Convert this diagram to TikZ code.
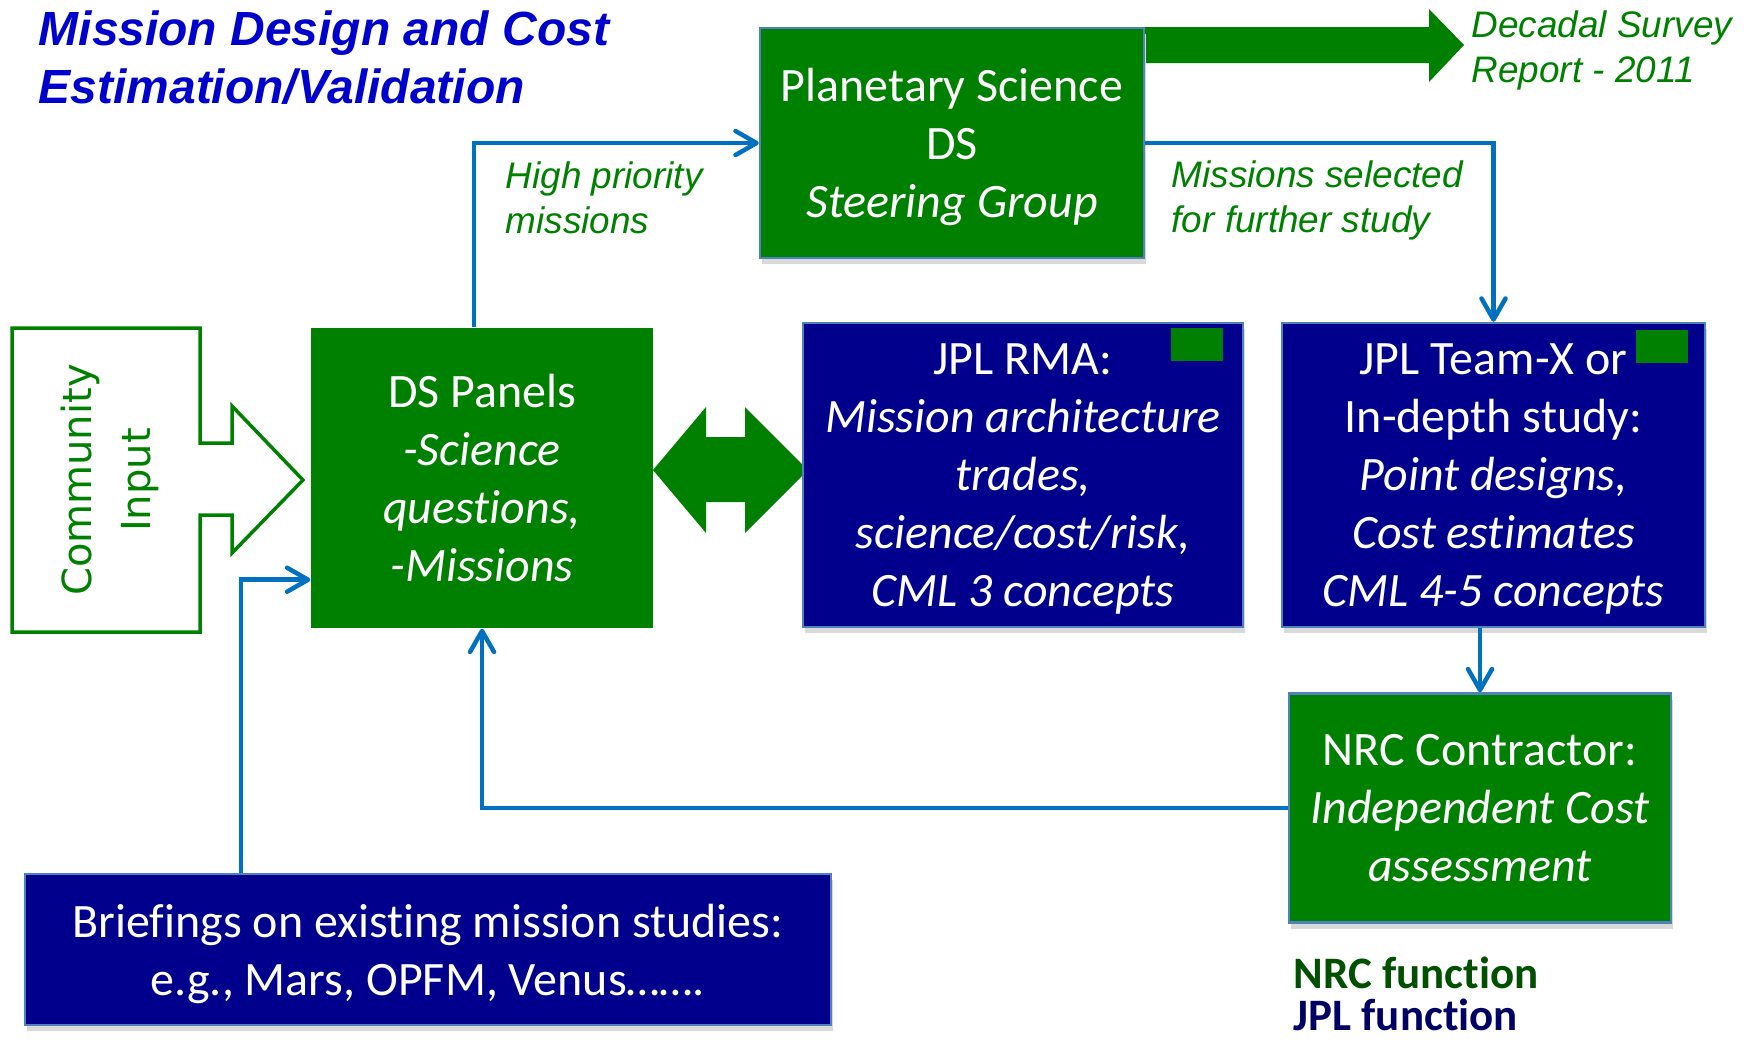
\documentclass[tikz,border=0pt]{standalone}
\usepackage{fontspec}
\setmainfont{Carlito}[Ligatures=NoCommon]
\newfontfamily\arialfont{Liberation Sans}
\newfontfamily\verdfont{DejaVu Sans}
\usetikzlibrary{arrows.meta,calc,shadows}

\definecolor{nasagreen}{RGB}{0,128,0}
\definecolor{jplblue}{RGB}{0,0,140}
\definecolor{edgeblue}{RGB}{79,129,189}
\definecolor{flowblue}{RGB}{0,112,192}
\definecolor{titleblue}{RGB}{0,0,204}
\definecolor{legendgreen}{RGB}{0,80,0}
\definecolor{legendblue}{RGB}{0,0,100}

\tikzset{
  box/.style={draw=edgeblue, line width=0.25mm, text=white, align=center, inner sep=0pt,
    text depth=0pt, font=\fontsize{13.65}{16.5}\selectfont,
    drop shadow={shadow xshift=0.2mm, shadow yshift=-0.6mm, fill=black!15, opacity=1}},
  nrcbox/.style={box, fill=nasagreen},
  jplbox/.style={box, fill=jplblue},
  panelbox/.style={fill=nasagreen, text=white, align=center, inner sep=0pt,
    text depth=0pt, font=\fontsize{13.65}{16.5}\selectfont},
  tag/.style={fill=nasagreen, inner sep=0pt, minimum width=5.2mm, minimum height=3.3mm},
  flow/.style={draw=flowblue, line width=0.45mm, -{Straight Barb[length=2.1mm,width=2.4mm,round]}},
  lbl/.style={text=nasagreen, font=\arialfont\itshape\fontsize{10.5}{12.8}\selectfont,
    align=left, inner sep=0pt},
  legend/.style={font=\bfseries\fontsize{12.8}{12.8}\selectfont, inner sep=0pt, anchor=base west}
}

\begin{document}
\begin{tikzpicture}[x=0.1mm,y=-0.1mm]
\useasboundingbox (0,0) rectangle (1750,1040);

% title and outcome
\node[anchor=north west, text=titleblue, align=left, inner sep=0pt,
  font=\arialfont\bfseries\itshape\fontsize{13.65}{16.5}\selectfont] (title) at (38,10)
  {Mission Design and Cost\\Estimation/Validation};
\node[lbl, anchor=north west] (report) at (1471,10) {Decadal Survey\\Report - 2011};

% community input arrow
\draw[nasagreen, line width=0.35mm, fill=white]
  (12,328) -- (200,328) -- (200,443) -- (232,443) -- (232,406) -- (303,480)
  -- (232,553) -- (232,515) -- (200,515) -- (200,632) -- (12,632) -- cycle;
\node[rotate=90, align=center, text=nasagreen, inner sep=0pt,
  font=\verdfont\fontsize{11.4}{16.8}\selectfont] (community) at (110,480) {Community\\Input};

% big green arrows
\fill[nasagreen] (1144,27) -- (1429,27) -- (1429,9) -- (1464,45) -- (1429,82)
  -- (1429,63) -- (1144,63) -- cycle;
\fill[nasagreen] (653,470) -- (706,407) -- (706,437) -- (745,437) -- (745,407)
  -- (808,470) -- (745,533) -- (745,502) -- (706,502) -- (706,533) -- cycle;

% boxes
\node[nrcbox, minimum width=38.4mm, minimum height=23mm] (plan) at (952,143)
  {Planetary Science\\DS\\\textit{Steering Group}};
\node[panelbox, minimum width=34.2mm, minimum height=30mm] (panels) at (482,478)
  {DS Panels\\\textit{-Science}\\\textit{questions,}\\\textit{-Missions}};
\node[jplbox, minimum width=44mm, minimum height=30.4mm] (rma) at (1023,475)
  {JPL RMA:\\\textit{Mission architecture}\\\textit{trades,}\\\textit{science/cost/risk,}\\\textit{CML 3 concepts}};
\node[jplbox, minimum width=42.3mm, minimum height=30.4mm] (teamx) at (1493.5,475)
  {JPL Team-X or\\In-depth study:\\\textit{Point designs,}\\\textit{Cost estimates}\\\textit{CML 4-5 concepts}};
\node[nrcbox, minimum width=38.2mm, minimum height=22.9mm] (nrc) at (1480,808)
  {NRC Contractor:\\\textit{Independent Cost}\\\textit{assessment}};
\node[jplbox, minimum width=80.6mm, minimum height=15.1mm] (brief) at (428,949.5)
  {Briefings on existing mission studies:\\e.g., Mars, OPFM, Venus…….};

\node[tag, anchor=north east] (rmatag) at ($(rma.north east)+(-21,6)$) {};
\node[tag, anchor=north east] (teamxtag) at ($(teamx.north east)+(-18,8)$) {};

% flows
\draw[flow] ($(panels.north)+(-8,0)$) |- (plan.west);
\draw[flow] (plan.east) -| (teamx.north);
\draw[flow] (teamx.south -| nrc.north) -- (nrc.north);
\draw[flow] (nrc.west) -| (panels.south);
\draw[flow] ($(brief.north west)+(217,0)$) |- ($(panels.south west)+(0,-49)$);

\node[lbl, anchor=north west] (hplbl) at (505,161) {High priority\\missions};
\node[lbl, anchor=north west] (sellbl) at (1171,160) {Missions selected\\for further study};

% legend
\node[legend, text=legendgreen] (nrcfn) at (1293,988) {NRC function};
\node[legend, text=legendblue] (jplfn) at (1293,1030) {JPL function};
\end{tikzpicture}
\end{document}
